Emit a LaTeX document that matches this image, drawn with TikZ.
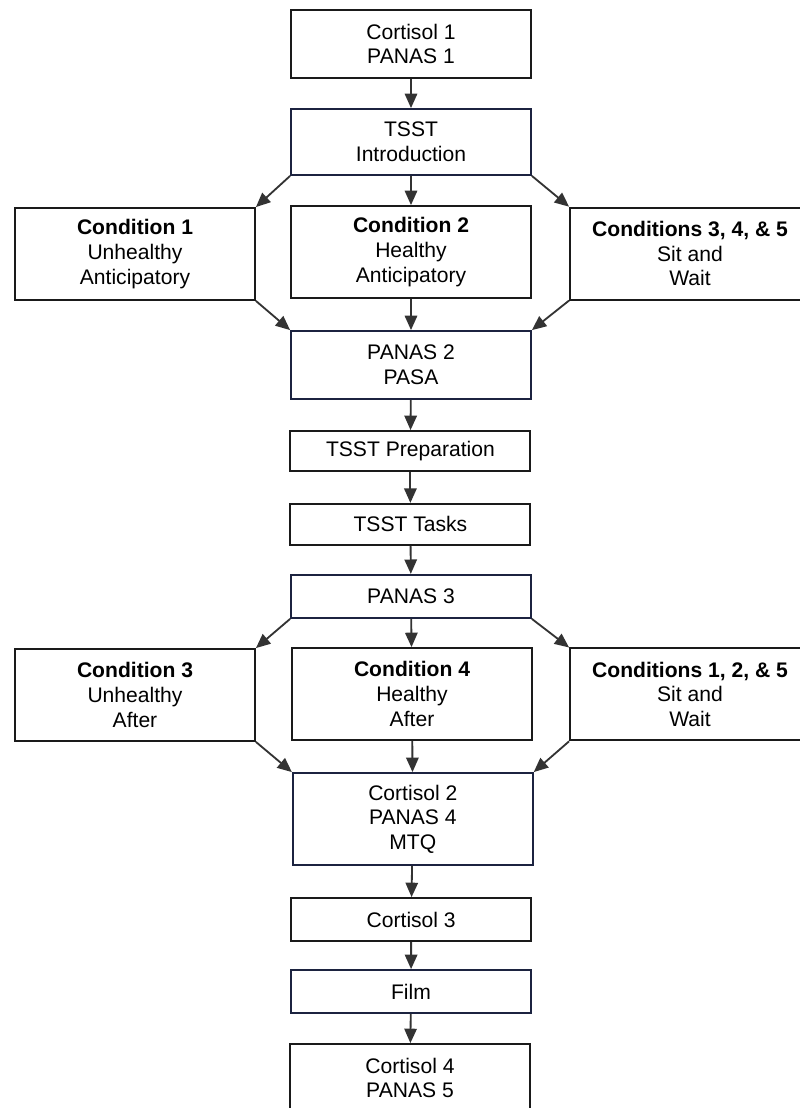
\documentclass[tikz,border=0pt]{standalone}
\usepackage{fontspec}
\setmainfont{Liberation Sans}
\usepackage{xcolor}
\definecolor{boxline}{HTML}{1A1A1A}
\definecolor{navyline}{HTML}{1C2340}
\definecolor{arrowgray}{HTML}{333333}
\usepackage{tikz}
\usetikzlibrary{arrows.meta, positioning}

\begin{document}
\begin{tikzpicture}[
    stage/.style={draw=boxline, line width=1.3pt, fill=white, minimum width=6cm,
                  minimum height=1.05cm, align=center, inner sep=2pt,
                  font=\fontsize{15}{17.5}\selectfont},
    blue/.style={stage, draw=navyline},
    cond/.style={stage, minimum height=2.3cm},
    arr/.style={draw=arrowgray, line width=1.3pt,
                -{Triangle[length=3.6mm, width=3.1mm]}}]
    \useasboundingbox (0,0) rectangle (20,-27.7);
    \node[stage, minimum height=1.7cm] (cort1) at (10.275,-1.1) {Cortisol 1\\PANAS 1};
    \node[blue, minimum height=1.65cm] (intro) at (10.275,-3.55) {TSST\\Introduction};
    \node[cond] (cond1) at (3.375,-6.35) {\textbf{Condition 1}\\Unhealthy\\Anticipatory};
    \node[cond] (cond2) at (10.275,-6.3) {\textbf{Condition 2}\\Healthy\\Anticipatory};
    \node[cond] (cond345) at (17.25,-6.34) {\textbf{Conditions 3, 4, \& 5}\\Sit and\\Wait};
    \node[blue, minimum height=1.7cm] (panas2) at (10.275,-9.125) {PANAS 2\\PASA};
    \node[stage, minimum height=1cm] (prep) at (10.26,-11.275) {TSST Preparation};
    \node[stage, minimum height=1.03cm] (tasks) at (10.26,-13.11) {TSST Tasks};
    \node[blue, minimum height=1.08cm] (panas3) at (10.275,-14.91) {PANAS 3};
    \node[cond] (cond3) at (3.375,-17.375) {\textbf{Condition 3}\\Unhealthy\\After};
    \node[cond] (cond4) at (10.3,-17.35) {\textbf{Condition 4}\\Healthy\\After};
    \node[cond] (cond125) at (17.25,-17.36) {\textbf{Conditions 1, 2, \& 5}\\Sit and\\Wait};
    \node[blue, minimum height=2.3cm] (cort2) at (10.32,-20.475) {Cortisol 2\\PANAS 4\\MTQ};
    \node[stage, minimum height=1.08cm] (cort3) at (10.28,-22.99) {Cortisol 3};
    \node[blue, minimum height=1.08cm] (film) at (10.275,-24.79) {Film};
    \node[stage, minimum height=1.7cm] (cort4) at (10.25,-26.95) {Cortisol 4\\PANAS 5};
    % straight chain
    \draw[arr] (cort1) -- (intro);
    \draw[arr] (intro) -- (cond2);
    \draw[arr] (cond2) -- (panas2);
    \draw[arr] (panas2) -- (prep);
    \draw[arr] (prep) -- (tasks);
    \draw[arr] (tasks) -- (panas3);
    \draw[arr] (panas3) -- (cond4);
    \draw[arr] (cond4) -- (cort2);
    \draw[arr] (cort2) -- (cort3);
    \draw[arr] (cort3) -- (film);
    \draw[arr] (film) -- (cort4);
    % branches to the side conditions
    \draw[arr] (intro.south west) -- (cond1.north east);
    \draw[arr] (intro.south east) -- (cond345.north west);
    \draw[arr] (cond1.south east) -- (panas2.north west);
    \draw[arr] (cond345.south west) -- (panas2.north east);
    \draw[arr] (panas3.south west) -- (cond3.north east);
    \draw[arr] (panas3.south east) -- (cond125.north west);
    \draw[arr] (cond3.south east) -- (cort2.north west);
    \draw[arr] (cond125.south west) -- (cort2.north east);
  \end{tikzpicture}
\end{document}
